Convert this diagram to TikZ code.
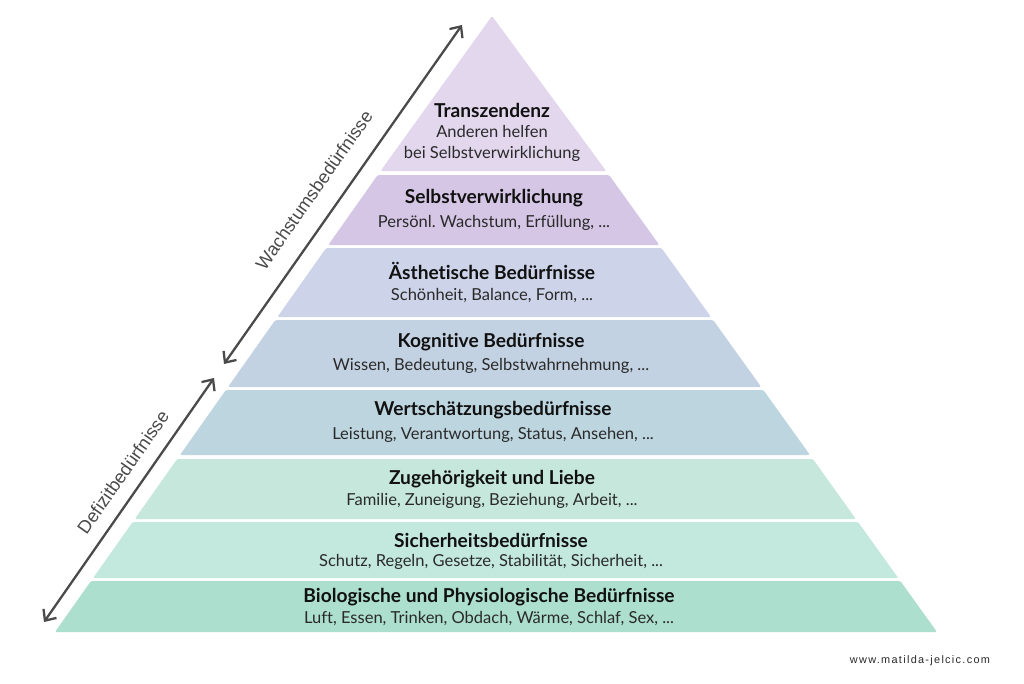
\documentclass[tikz,border=0pt]{standalone}
\usepackage{fontspec}
\setmainfont{Lato}[Ligatures={NoCommon}]
\newfontfamily\labelfont{Liberation Sans}
\newfontfamily\urlfont[LetterSpace=12]{Liberation Sans}
\usetikzlibrary{arrows.meta}
\frenchspacing
\definecolor{cA}{HTML}{E3D7EE}
\definecolor{cB}{HTML}{D5C6E5}
\definecolor{cC}{HTML}{CDD3E8}
\definecolor{cD}{HTML}{C3D2E2}
\definecolor{cE}{HTML}{BDD5DF}
\definecolor{cF}{HTML}{C6E7DC}
\definecolor{cG}{HTML}{C3E8DD}
\definecolor{cH}{HTML}{ACDFCD}
\definecolor{arrowgray}{HTML}{4A4A4A}
\definecolor{txt}{HTML}{111111}
\definecolor{subtxt}{HTML}{2A2A2A}
\tikzset{
  titletext/.style={font=\fontsize{10.9}{12}\selectfont\bfseries, text=txt, inner sep=0pt},
  subtext/.style={font=\fontsize{9.4}{12}\selectfont, text=subtxt, inner sep=0pt, align=center},
  sidearrow/.style={draw=arrowgray, line width=1.3pt, {Straight Barb[length=5pt,width=9pt]}-{Straight Barb[length=5pt,width=9pt]}},
  sidelabel/.style={font=\labelfont\fontsize{10.4}{12}\selectfont, text=arrowgray, inner sep=0pt, rotate=55},
}
\newcommand{\pyrlayer}[3]{%
  \fill[#3, rounded corners=0.8pt] ({490-0.7062*(#1-16)},#1) -- ({495+0.7175*(#1-16)},#1) --
    ({495+0.7175*(#2-16)},#2) -- ({490-0.7062*(#2-16)},#2) -- cycle;}
\begin{document}
\begin{tikzpicture}[x=0.02cm,y=-0.02cm]
\useasboundingbox[fill=white] (0,0) rectangle (1024,683);
% layers
\fill[cA, rounded corners=0.8pt] (492,16) -- ({495+0.7175*(171-16)},171) -- ({490-0.7062*(171-16)},171) -- cycle;
\pyrlayer{175}{245}{cB}
\pyrlayer{248}{317}{cC}
\pyrlayer{320}{387}{cD}
\pyrlayer{390}{455}{cE}
\pyrlayer{459}{519}{cF}
\pyrlayer{522}{578}{cG}
\pyrlayer{581}{632}{cH}
% texts
\node[titletext] (t1) at (492,110) {Transzendenz};
\node[subtext] (s1) at (492,143) {Anderen helfen\\bei Selbstverwirklichung};
\node[titletext] (t2) at (494,198) {Selbstverwirklichung};
\node[subtext] (s2) at (494,223) {Persönl. Wachstum, Erfüllung, ...};
\node[titletext] (t3) at (492,271) {Ästhetische Bedürfnisse};
\node[subtext] (s3) at (492,296) {Schönheit, Balance, Form, ...};
\node[titletext] (t4) at (491,342) {Kognitive Bedürfnisse};
\node[subtext] (s4) at (491,366) {Wissen, Bedeutung, Selbstwahrnehmung, ...};
\node[titletext] (t5) at (493,410) {Wertschätzungsbedürfnisse};
\node[subtext] (s5) at (493,435) {Leistung, Verantwortung, Status, Ansehen, ...};
\node[titletext] (t6) at (492,479) {Zugehörigkeit und Liebe};
\node[subtext] (s6) at (492,501) {Familie, Zuneigung, Beziehung, Arbeit, ...};
\node[titletext] (t7) at (491,540) {Sicherheitsbedürfnisse};
\node[subtext] (s7) at (491,562) {Schutz, Regeln, Gesetze, Stabilität, Sicherheit, ...};
\node[titletext] (t8) at (489,597) {Biologische und Physiologische Bedürfnisse};
\node[subtext] (s8) at (489,619) {Luft, Essen, Trinken, Obdach, Wärme, Schlaf, Sex, ...};
% side arrows
\coordinate (wA) at (224,364);
\coordinate (wB) at (462,25);
\coordinate (dA) at (44,622);
\coordinate (dB) at (214,378);
\draw[sidearrow] (wA) -- (wB);
\draw[sidearrow] (dA) -- (dB);
\node[sidelabel] (lw) at (314,190) {Wachstumsbedürfnisse};
\node[sidelabel] (ld) at (123,472) {Defizitbedürfnisse};
% watermark
\node[font=\urlfont\fontsize{6.2}{8}\selectfont, text=subtxt, inner sep=0pt] (url) at (920,661) {www.matilda-jelcic.com};
\end{tikzpicture}
\end{document}
